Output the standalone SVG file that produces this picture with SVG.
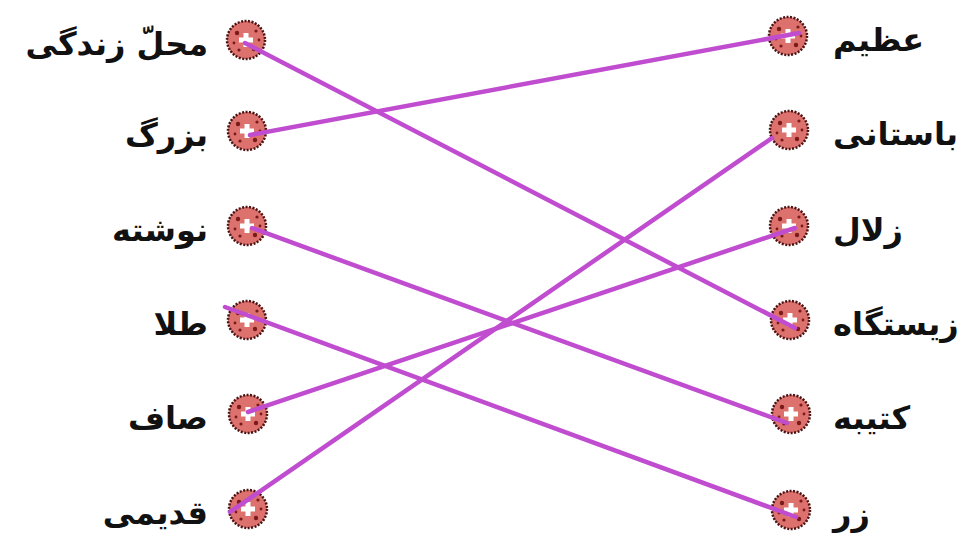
<svg xmlns="http://www.w3.org/2000/svg" width="969" height="540" viewBox="0 0 969 540">
<style>
.lbl{font-family:"DejaVu Sans","Noto Sans",sans-serif;font-weight:bold;font-size:32px;fill:#111}
.l{text-anchor:end}
.r{text-anchor:start}
.dot{fill:#dc716d;stroke:#4a1212;stroke-width:2.5;stroke-dasharray:2 1.5}
.hole{fill:#fff}
.spk{fill:#7a1a1a}
.con{stroke:#c04ccf;stroke-width:4.5;stroke-linecap:round;fill:none}
</style>
<defs>
<g id="bullet">
<circle class="dot" r="19"/>
<circle cx="-9" cy="-7" r="2.2" class="spk"/>
<circle cx="8" cy="9" r="2.2" class="spk"/>
<circle cx="10" cy="-9" r="1.6" class="spk"/>
<circle cx="-7" cy="10" r="1.6" class="spk"/>
<circle cx="-12" cy="3" r="1.4" class="spk"/>
<circle cx="13" cy="0" r="1.4" class="spk"/>
<path class="hole" d="M-2.5-7h5v4.5h4.5v5h-4.5v4.5h-5v-4.5h-4.5v-5h4.5z"/>
</g>
</defs>
<rect width="969" height="540" fill="#fff"/>
<g id="left-1"><use href="#bullet" x="246" y="40"/><text class="lbl l" x="208" y="55">محلّ زندگی</text></g>
<g id="left-2"><use href="#bullet" x="247" y="131"/><text class="lbl l" x="208" y="146">بزرگ</text></g>
<g id="left-3"><use href="#bullet" x="247" y="226"/><text class="lbl l" x="208" y="241">نوشته</text></g>
<g id="left-4"><use href="#bullet" x="247" y="320"/><text class="lbl l" x="208" y="335">طلا</text></g>
<g id="left-5"><use href="#bullet" x="248" y="414"/><text class="lbl l" x="208" y="429">صاف</text></g>
<g id="left-6"><use href="#bullet" x="248" y="509"/><text class="lbl l" x="208" y="524">قدیمی</text></g>
<g id="right-1"><use href="#bullet" x="788" y="36"/><text class="lbl r" x="833" y="51">عظیم</text></g>
<g id="right-2"><use href="#bullet" x="789" y="130"/><text class="lbl r" x="833" y="145">باستانی</text></g>
<g id="right-3"><use href="#bullet" x="789" y="226"/><text class="lbl r" x="833" y="241">زلال</text></g>
<g id="right-4"><use href="#bullet" x="790" y="320"/><text class="lbl r" x="833" y="335">زیستگاه</text></g>
<g id="right-5"><use href="#bullet" x="791" y="414"/><text class="lbl r" x="833" y="429">کتیبه</text></g>
<g id="right-6"><use href="#bullet" x="791" y="510"/><text class="lbl r" x="833" y="525">زر</text></g>
<g id="connectors">
<line class="con" x1="245" y1="43" x2="795" y2="328"/>
<line class="con" x1="250" y1="135" x2="799" y2="33"/>
<line class="con" x1="252" y1="228" x2="787" y2="423"/>
<line class="con" x1="225" y1="307" x2="796" y2="517"/>
<line class="con" x1="248" y1="412" x2="795" y2="228"/>
<line class="con" x1="230" y1="512" x2="772" y2="138"/>
</g>
</svg>
